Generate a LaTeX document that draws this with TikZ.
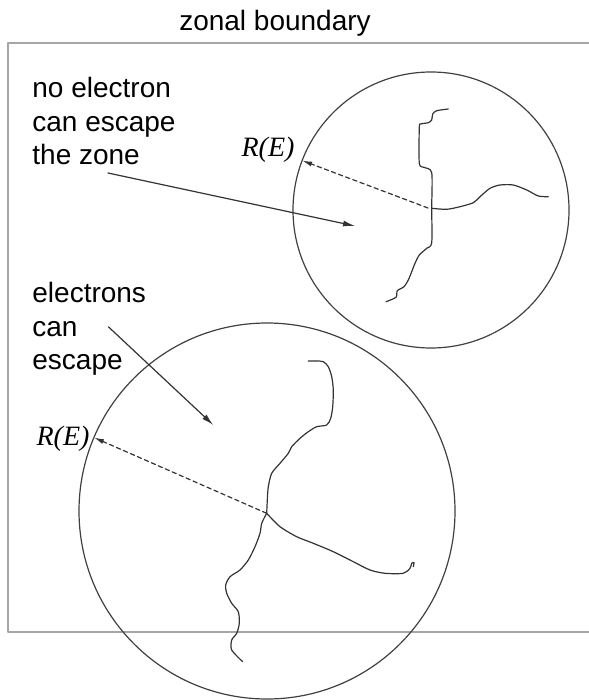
\documentclass[tikz,border=0pt]{standalone}
\usepackage{fontspec}
\setmainfont{Liberation Sans}
\newfontfamily\serifit{Liberation Serif}
\usepackage{tikz}
\usetikzlibrary{arrows.meta}

\begin{document}
\begin{tikzpicture}[x=0.5pt, y=-0.5pt, line cap=round, line join=round,
    zone/.style={draw=black!75, line width=0.6pt, circle, inner sep=0pt, outer sep=0pt},
    walk/.style={black!80, line width=0.6pt},
    txt/.style={font=\fontsize{14}{16.7}\selectfont, inner sep=0pt, align=left},
    rtxt/.style={font=\fontsize{14}{16}\selectfont\serifit\itshape, inner sep=0pt},
    pointer/.style={black!80, line width=0.6pt, -{Latex[length=6pt, width=3pt]}},
    rangearrow/.style={black!80, line width=0.6pt, dash pattern=on 2.2pt off 1.6pt, -{Latex[length=5pt, width=2.5pt]}}]
    \useasboundingbox (0,0) rectangle (588,700);

    % --- 1. Zonal boundary (open on the right) ---
    \draw[gray!70, line width=0.9pt, line cap=butt] (600,43) -- (8,43) -- (8,632) -- (600,632);
    \node[font=\fontsize{14}{16}\selectfont, anchor=base, inner sep=0pt] (zb) at (275,31) {zonal boundary};

    % --- 2. Small zone: electrons stay inside ---
    \node[zone, minimum size=138pt] (zoneA) at (431,210) {};
    \coordinate (jA) at (428,208);
    \draw[walk] plot[smooth, tension=0.45] coordinates {(448.3,109) (436.7,110.7) (432.7,114) (431.7,120) (428.3,122.7) (420.7,124) (419.3,127.3) (419.3,163.3) (424,167.3) (431.7,172.7) (431.7,208) (431.7,242.7) (426.7,248.3) (419.3,255) (415,263.3) (411.7,271.7) (408.3,280) (404,286.7) (397.3,290.7) (396,297.3) (386,301.7)};
    \draw[walk] plot[smooth, tension=0.45] coordinates {(431.7,208.3) (446.7,209.3) (460,206.7) (473.3,202.7) (480,196.7) (490,188.3) (500,185) (513.3,185) (526.7,190) (538.3,196) (548.3,196.7)};
    \draw[rangearrow] (jA) -- (zoneA.159.4);
    \node[rtxt, anchor=base] (rA) at (268,156.7) {R(E)};

    \node[txt, anchor=north west] (noesc) at (32,77) {no electron\\can escape\\the zone};
    \coordinate (noTail) at (108,173);
    \coordinate (noHead) at (355,226);
    \draw[pointer] (noTail) -- (noHead);

    % --- 3. Large zone: electrons can leave ---
    \node[zone, minimum size=188pt] (zoneB) at (267,511) {};
    \coordinate (jB) at (266.7,513.3);
    \draw[walk] plot[smooth, tension=0.45] coordinates {(266.7,513.3) (267.3,500) (268.3,486.7) (271.7,473.3) (280,463.3) (288.3,453.3) (291.7,446.7) (300,438.3) (308.3,431.7) (316.7,426.7) (326.7,425) (330.7,418.3) (332.7,406.7) (333.3,390) (331.7,376.7) (328.3,366.7) (323.3,361.7) (316.7,361) (308.3,361)};
    \draw[walk] plot[smooth, tension=0.45] coordinates {(266.7,513.3) (280,526.7) (296.7,536.7) (313.3,543.3) (333.3,551.7) (353.3,561.7) (370,570) (385,573.3) (403.3,573.3) (410,568.3) (411.7,563.3) (414,562.7) (413.3,566.7)};
    \draw[walk] plot[smooth, tension=0.45] coordinates {(266.7,513.3) (261.7,523.3) (260,533.3) (255,546.7) (248.3,560) (240,570) (230,576.7) (225.7,585) (226.7,593.3) (231.7,603.3) (238.3,611.7) (239.3,623.3) (236.7,633.3) (231.7,640) (231.7,650) (242.7,661.7)};
    \draw[rangearrow] (jB) -- (zoneB.157);
    \node[rtxt, anchor=base] (rB) at (63,445) {R(E)};

    \node[txt, anchor=north west] (canesc) at (32,282) {electrons\\can\\escape};
    \coordinate (canTail) at (108.3,326.7);
    \coordinate (canHead) at (213.3,425);
    \draw[pointer] (canTail) -- (canHead);
\end{tikzpicture}
\end{document}
